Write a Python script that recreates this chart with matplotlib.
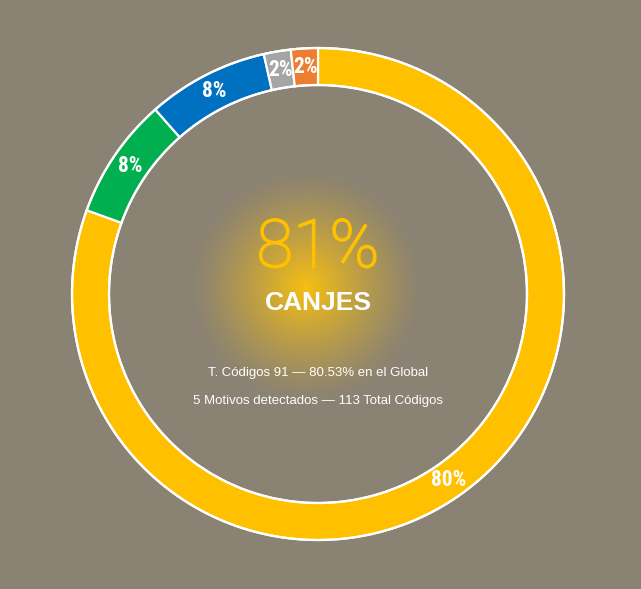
import numpy as np
import matplotlib
matplotlib.use("Agg")
import matplotlib.pyplot as plt
from matplotlib import font_manager
import matplotlib.patheffects as pe

categories = ["Canjes", "Motivo 2", "Motivo 3", "Motivo 4", "Motivo 5"]
values = [91, 9, 9, 2, 2]
labels = ["80%", "8%", "8%", "2%", "2%"]
colors = ["#FFC000", "#00B050", "#0070C0", "#A5A5A5", "#ED7D31"]
center_value = "81%"
center_title = "CANJES"
line1 = "T. Códigos 91 — 80.53% en el Global"
line2 = "5 Motivos detectados — 113 Total Códigos"

BG = "#8A8273"
W, H = 641, 589
fig = plt.figure(figsize=(W / 100, H / 100), dpi=100, facecolor=BG)
ax = fig.add_axes([0, 0, 1, 1])
ax.set_facecolor(BG)

cx, cy = 318, H - 294
R, w = 246, 37

# glow
gx, gy, GR = 306, H - 287, 118
yy, xx = np.mgrid[0:H, 0:W]
r = np.sqrt((xx - gx) ** 2 + ((H - 1 - yy) - gy) ** 2) / GR
alpha = np.clip(1 - r, 0, 1) ** 1.25 * 1.0
img = np.zeros((H, W, 4))
img[..., 0] = 0.97
img[..., 1] = 0.75
img[..., 2] = 0.07
img[..., 3] = alpha
ax.imshow(img, extent=(0, W, 0, H), origin="upper", zorder=0, interpolation="bilinear")

wedges, _ = ax.pie(values, colors=colors, startangle=90, counterclock=False,
                   radius=R, center=(cx, cy),
                   wedgeprops=dict(width=w, edgecolor="white", linewidth=1.6))
for wd in wedges:
    wd.set_zorder(2)

# white outline circles
th = np.linspace(0, 2 * np.pi, 720)
ax.plot(cx + R * np.cos(th), cy + R * np.sin(th), color="white", lw=1.6, zorder=3)
ax.plot(cx + (R - w) * np.cos(th), cy + (R - w) * np.sin(th), color="white", lw=1.6, zorder=3)

fams = set(f.name for f in font_manager.fontManager.ttflist)
cond = "Roboto"
for cand in ["Liberation Sans Narrow", "Roboto Condensed", "Open Sans Condensed", "Roboto"]:
    if cand in fams:
        cond = cand
        break

total = sum(values)
start = 90.0
rm = R - w / 2
for v, lab in zip(values, labels):
    ang = start - v / total * 360 / 2
    start -= v / total * 360
    a = np.deg2rad(ang)
    ax.text(cx + rm * np.cos(a), cy + rm * np.sin(a), lab, ha="center", va="center",
            color="white", fontsize=15.5, fontweight="bold", family=cond, zorder=4)

ax.text(cx, H - 267, center_value, ha="center", va="baseline", color="#FFC000",
        fontsize=48, family="Roboto", fontweight="light", zorder=4,
        path_effects=[pe.withStroke(linewidth=1.3, foreground="#FFC000")])
ax.text(cx, H - 310, center_title, ha="center", va="baseline", color="white",
        fontsize=19, family="Liberation Sans", fontweight="bold", zorder=4)
ax.text(cx, H - 376, line1, ha="center", va="baseline", color="white",
        fontsize=9.5, family="Liberation Sans", zorder=4)
ax.text(cx, H - 404, line2, ha="center", va="baseline", color="white",
        fontsize=9.5, family="Liberation Sans", zorder=4)

ax.set_xlim(0, W)
ax.set_ylim(0, H)
ax.set_aspect("equal")
ax.axis("off")
fig.savefig("out.png", dpi=100, facecolor=BG)
